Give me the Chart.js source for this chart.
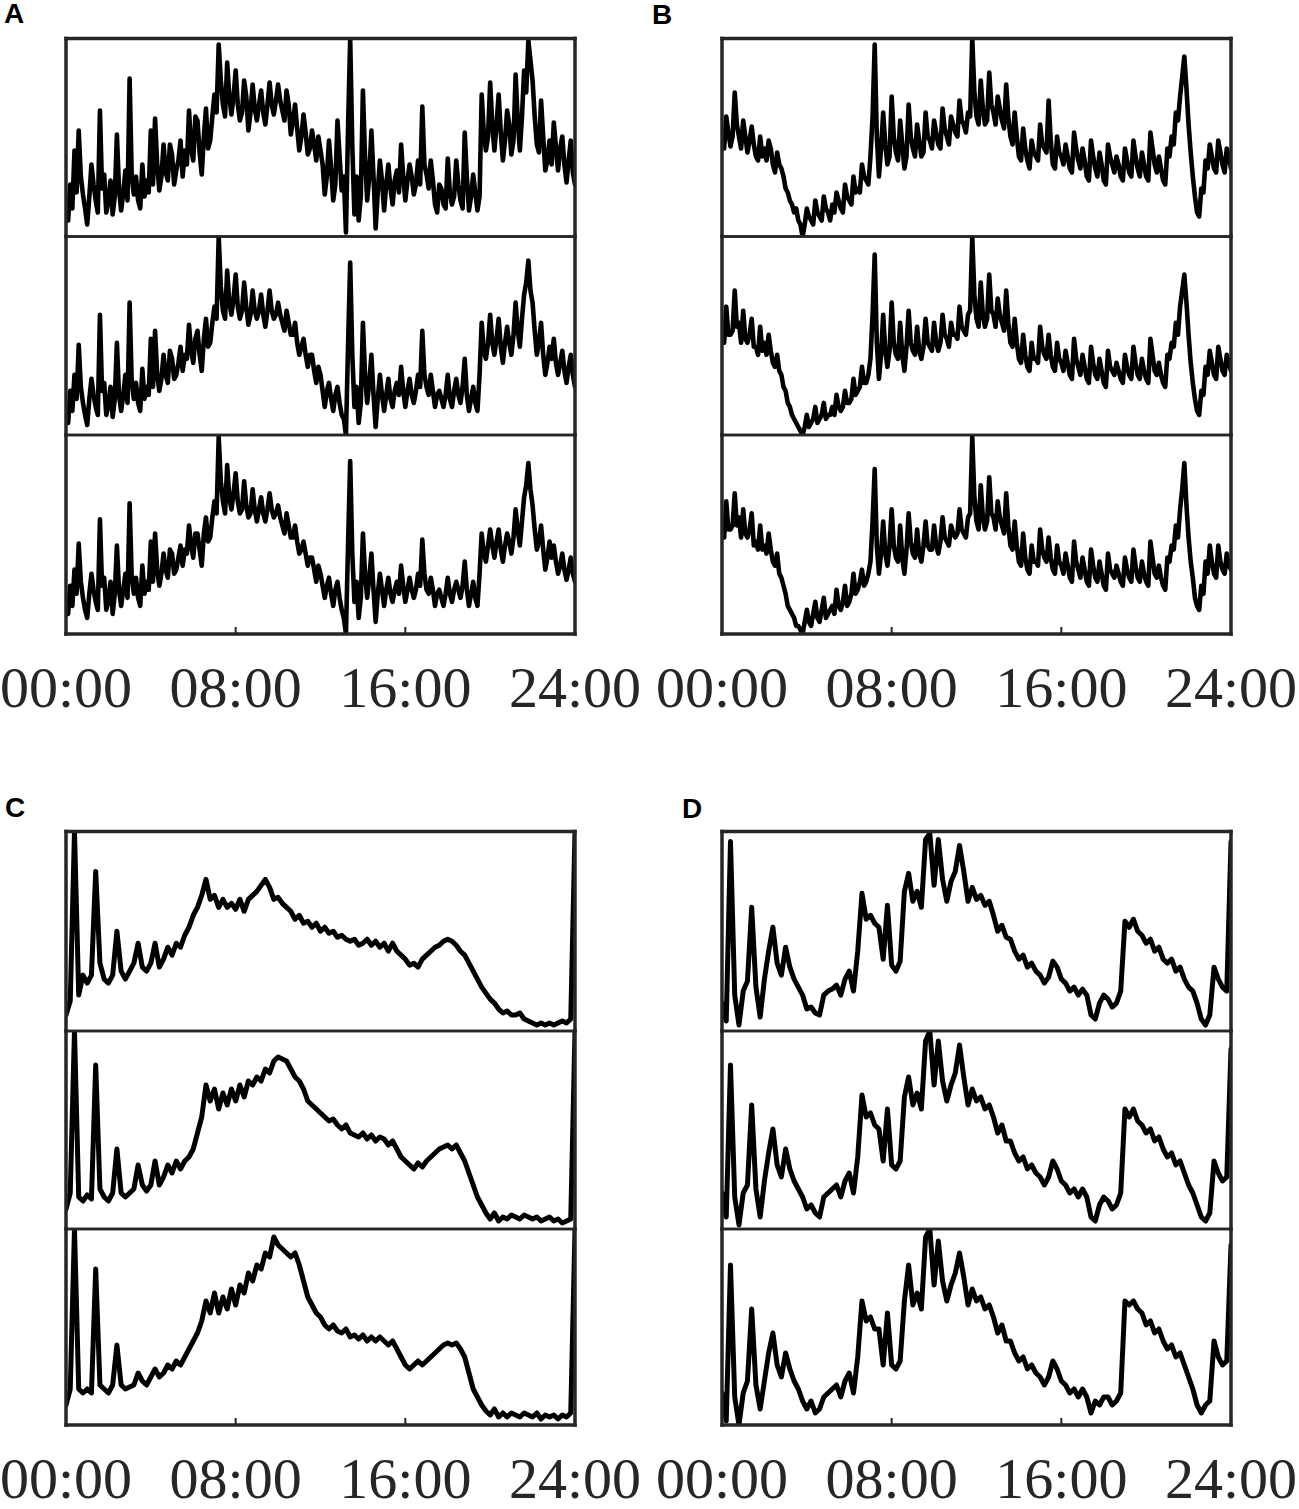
<!DOCTYPE html>
<html><head><meta charset="utf-8">
<script src="https://cdn.jsdelivr.net/npm/chart.js@4.4.1/dist/chart.umd.min.js"></script>
<style>
html,body{margin:0;padding:0;background:#fff;}
body{width:1299px;height:1509px;position:relative;overflow:hidden;}
canvas{position:absolute;}
.lbl{position:absolute;font:bold 28px "Liberation Sans",Arial,sans-serif;line-height:28px;color:#000;}
</style></head><body>
<div class="lbl" style="left:4px;top:0px">A</div>
<div class="lbl" style="left:652px;top:1px">B</div>
<div class="lbl" style="left:5px;top:794px">C</div>
<div class="lbl" style="left:682px;top:795px">D</div>
<script>
// ---- data (time in hours, values in arbitrary units per subplot) ----
const tickHours = [0, 8, 16, 24];
const tickLabels = ['00:00', '08:00', '16:00', '24:00'];
const timeFine = [];   // 0.1 h sampling (panels A, B)
for (let i = 0; i <= 240; i++) timeFine.push(+(i * 0.1).toFixed(1));
const timeCoarse = []; // 0.2 h sampling (panels C, D)
for (let i = 0; i <= 120; i++) timeCoarse.push(+(i * 0.2).toFixed(1));

const A1 = [16,8, 26,14, 43,22, 53,30, 21,14, 6,20, 36,26, 18,12, 63,24, 31,12,
 18,28, 11,20, 51,24, 13,22, 33,18, 79,30, 21,30, 18,14, 36,20, 28,22,
 53,26, 59,36, 23,30, 46,32, 28,46, 41,26, 33,38, 48,30, 43,36, 63,44,
 38,60, 58,42, 31,50, 64,44, 48,60, 71,62, 96,78, 66,60, 87,70, 61,70,
 83,66, 58,62, 78,70, 53,62, 76,64, 58,66, 73,62, 56,66, 77,66, 61,68,
 76,68, 63,58, 73,66, 51,58, 66,54, 43,50, 61,52, 41,44, 53,46, 38,50,
 43,36, 21,30, 48,34, 18,26, 58,40, 23,30, 2,55, 99,45, 11,30, 8,20,
 73,40, 18,30, 53,30, 4,22, 38,28, 13,26, 36,24, 16,28, 33,22, 46,30,
 18,28, 36,30, 21,26, 38,26, 65,36, 31,24, 38,28, 16,12, 26,24, 16,14,
 39,22, 16,20, 38,26, 18,14, 52,30, 13,20, 31,22, 13,20, 71,52, 43,50,
 77,56, 43,56, 71,52, 38,48, 63,56, 41,48, 81,58, 43,60, 83,72, 98,88,
 78,60, 46,42, 68,50, 33,38, 48,36, 57,45, 33,44, 50,36, 27,38, 48,32,
 26];
const A2 = [12,6, 22,12, 30,18, 45,24, 16,10, 5,18, 28,20, 14,10, 60,22, 26,10,
 15,24, 9,18, 46,20, 12,20, 30,16, 66,26, 18,26, 16,12, 33,18, 24,20,
 48,24, 52,30, 22,28, 40,30, 26,42, 38,28, 30,36, 44,32, 40,38, 55,42,
 36,48, 52,40, 32,48, 58,44, 46,56, 64,58, 99,74, 62,58, 82,66, 60,68,
 80,64, 58,62, 76,64, 55,60, 72,62, 58,62, 70,60, 54,62, 72,62, 58,60,
 66,60, 56,52, 62,56, 50,50, 56,46, 40,44, 48,40, 34,40, 40,32, 26,34,
 30,22, 14,22, 26,18, 12,20, 24,16, 10,8, 0,45, 86,40, 14,24, 6,16,
 56,30, 16,26, 40,20, 4,18, 30,20, 12,20, 28,18, 14,22, 26,20, 34,22,
 14,22, 28,20, 16,22, 30,24, 52,30, 24,20, 30,22, 14,20, 22,18, 14,20,
 30,18, 14,22, 28,20, 16,24, 38,20, 12,18, 24,16, 12,30, 56,42, 38,46,
 60,46, 40,48, 58,44, 36,46, 54,46, 40,50, 66,52, 44,58, 70,76, 87,72,
 66,52, 40,46, 56,40, 30,36, 44,38, 48,36, 30,36, 42,32, 26,34, 40,30,
 24];
const A3 = [18,10, 24,14, 32,20, 45,26, 18,12, 8,20, 30,22, 16,12, 57,24, 28,12,
 17,26, 10,20, 44,22, 14,22, 30,18, 65,28, 20,28, 18,14, 34,20, 26,22,
 46,26, 50,32, 24,30, 40,32, 28,42, 40,30, 32,38, 44,34, 42,40, 54,44,
 38,50, 50,42, 34,50, 58,46, 48,58, 66,60, 98,76, 66,60, 84,68, 62,70,
 80,66, 60,62, 76,64, 58,60, 72,62, 56,62, 68,60, 56,62, 70,62, 58,60,
 64,58, 54,50, 60,54, 48,48, 54,46, 40,42, 46,40, 34,38, 38,32, 26,34,
 30,24, 18,24, 28,20, 14,22, 26,18, 12,8, 0,45, 86,40, 16,26, 8,18,
 50,30, 18,28, 40,22, 6,20, 30,22, 14,22, 28,20, 16,22, 26,20, 34,24,
 16,22, 28,22, 18,22, 30,24, 47,30, 22,20, 28,22, 14,20, 22,18, 14,20,
 28,20, 16,22, 26,22, 18,24, 36,22, 14,20, 26,18, 14,30, 50,40, 36,44,
 52,44, 38,46, 52,42, 36,44, 50,46, 40,48, 62,52, 44,56, 68,74, 85,72,
 64,52, 42,46, 54,42, 32,38, 46,38, 44,36, 30,34, 40,32, 27,32, 38,30,
 26];

const B1 = [53,44, 60,52, 45,50, 72,56, 50,44, 58,50, 42,48, 55,46, 40,38, 50,40,
 44,38, 48,44, 36,32, 42,36, 34,30, 24,22, 18,16, 12,14, 8,6, 0,6,
 14,10, 8,6, 18,12, 10,8, 20,14, 12,8, 16,12, 22,18, 14,12, 26,20,
 18,16, 30,22, 24,22, 36,30, 28,26, 40,60, 96,50, 30,44, 62,46, 36,40,
 70,50, 42,38, 58,46, 34,40, 66,50, 44,40, 56,48, 40,42, 62,50, 48,44,
 58,52, 46,44, 64,54, 50,46, 60,56, 52,50, 68,58, 56,52, 62,60, 99,72,
 60,56, 78,64, 56,58, 82,66, 62,56, 70,64, 58,54, 76,60, 50,46, 62,50,
 40,38, 54,44, 38,34, 48,42, 40,38, 56,46, 44,42, 68,48, 36,34, 50,42,
 40,36, 46,40, 34,32, 52,44, 38,34, 44,38, 30,28, 48,40, 34,30, 42,36,
 28,26, 46,40, 36,32, 40,36, 30,28, 44,38, 32,30, 48,40, 34,30, 42,36,
 30,28, 52,44, 36,32, 40,34, 28,26, 44,40, 50,46, 62,58, 70,80, 90,74,
 56,42, 30,20, 12,10, 24,22, 38,34, 46,40, 34,32, 48,42, 36,32, 44,40,
 34];
const B2 = [55,46, 64,50, 50,52, 72,54, 56,46, 62,48, 46,50, 58,44, 44,40, 54,42,
 46,40, 50,42, 36,34, 40,32, 30,24, 22,16, 14,10, 8,6, 4,2, 0,4,
 10,4, 6,8, 14,6, 8,10, 16,8, 10,10, 14,10, 20,14, 12,14, 22,16,
 16,18, 28,20, 22,24, 34,26, 26,30, 38,60, 90,46, 28,40, 60,42, 34,42,
 66,46, 40,38, 56,40, 32,44, 62,46, 42,40, 54,42, 38,44, 58,46, 44,42,
 56,46, 42,46, 60,50, 48,44, 56,50, 50,48, 64,54, 52,50, 60,62, 99,70,
 58,54, 76,60, 54,58, 80,62, 60,54, 68,60, 56,52, 72,56, 46,44, 58,46,
 38,36, 50,40, 34,32, 46,38, 38,36, 54,44, 40,38, 50,40, 34,32, 46,38,
 36,32, 42,36, 30,28, 48,38, 34,30, 40,34, 28,26, 44,36, 30,28, 38,32,
 26,24, 42,34, 32,30, 36,32, 28,26, 40,34, 30,28, 44,36, 30,28, 38,32,
 28,26, 48,40, 32,30, 36,30, 26,24, 40,38, 46,44, 56,50, 64,72, 80,66,
 50,36, 26,18, 12,10, 22,20, 34,30, 42,36, 30,28, 44,38, 32,30, 40,36,
 32];
const B3 = [56,48, 66,52, 52,54, 70,54, 58,48, 62,50, 48,52, 60,44, 46,42, 54,42,
 44,40, 50,42, 36,34, 40,30, 28,24, 20,14, 12,10, 8,4, 4,2, 0,6,
 12,6, 4,10, 16,8, 6,12, 18,8, 10,12, 14,10, 22,14, 12,16, 24,14,
 16,20, 30,20, 22,26, 32,24, 26,30, 36,56, 82,44, 30,40, 56,40, 34,44,
 62,44, 38,36, 54,38, 30,42, 60,46, 40,38, 52,40, 36,44, 56,44, 42,42,
 54,44, 40,46, 58,48, 46,44, 54,50, 48,50, 62,52, 50,48, 58,60, 98,68,
 56,52, 74,58, 52,56, 78,60, 58,52, 66,58, 54,50, 70,54, 44,42, 56,44,
 36,34, 50,38, 32,30, 44,36, 36,34, 52,42, 38,36, 48,38, 32,30, 44,36,
 34,30, 40,34, 28,26, 46,36, 32,28, 38,32, 26,24, 42,34, 28,26, 36,30,
 24,22, 40,32, 30,28, 34,30, 26,24, 38,32, 28,26, 42,34, 28,26, 36,30,
 26,24, 46,38, 30,28, 34,28, 24,22, 38,36, 44,42, 54,48, 62,72, 85,64,
 48,36, 28,18, 14,12, 24,20, 36,30, 44,36, 30,28, 44,36, 32,30, 40,34,
 32];

const C1 = [8,15,100,18,28,24,28,80,34,26, 24,28,50,30,26,30,34,44,32,30,
 34,44,32,36,42,38,44,42,48,52, 58,62,68,76,66,68,62,66,62,64,
 61,66,60,66,68,70,73,76,72,66, 67,64,62,60,56,58,54,55,52,54,
 50,52,49,50,47,48,46,45,46,43, 44,46,43,45,42,44,40,44,40,38,
 36,33,34,32,36,38,40,42,43,45, 46,45,43,40,38,34,30,26,22,19,
 16,14,11,9,10,8,8,9,6,5, 4,3,4,3,4,3,4,5,4,6, 100];
const C2 = [10,18,99,16,14,17,15,82,20,16, 14,18,40,18,16,18,20,32,22,19,
 22,34,22,26,32,28,34,30,34,36, 40,48,56,72,64,70,60,68,62,70,
 64,72,66,74,72,76,74,80,78,84, 86,85,84,80,76,74,70,64,62,60,
 58,56,54,55,52,50,52,48,47,46, 48,45,47,44,46,45,42,44,40,36,
 34,32,30,33,31,34,36,38,40,41, 42,40,42,38,34,28,22,16,12,8,
 5,8,4,6,5,7,6,5,7,6, 5,6,4,5,6,4,5,3,4,5, 99];
const C3 = [10,18,98,18,16,18,16,78,20,18, 16,20,40,20,18,19,20,26,22,20,
 24,28,24,26,30,28,32,30,34,38, 42,46,52,62,56,66,56,64,58,68,
 60,70,66,76,72,80,78,86,84,94, 90,88,86,84,86,80,72,64,60,56,
 54,50,48,50,47,46,48,44,45,43, 45,42,44,42,44,42,40,42,38,34,
 30,28,30,32,30,32,34,36,38,40, 41,40,41,38,34,26,18,14,10,7,
 5,8,4,6,4,6,5,4,6,5, 4,6,3,5,4,5,3,5,4,6, 98];

const D1 = [14,5,95,18,3,20,25,62,22,7, 26,40,52,34,28,42,32,26,22,18,
 11,12,9,8,18,20,21,23,18,26, 30,20,40,69,56,58,54,52,36,63,
 33,30,35,70,79,65,70,62,96,99, 73,96,76,65,75,80,93,80,65,72,
 66,68,63,65,58,50,53,47,46,40, 36,38,32,34,30,28,24,27,35,32,
 26,24,20,22,18,21,18,8,6,14, 18,16,12,14,20,55,52,56,50,48,
 44,46,40,42,36,34,36,30,32,26, 22,20,14,6,3,8,32,26,22,20, 95];
const D2 = [18,6,82,16,2,18,22,62,20,6, 24,38,50,32,26,40,30,24,20,16,
 10,12,8,6,16,18,20,22,16,24, 28,18,36,67,56,58,52,50,34,60,
 32,30,34,66,76,62,68,60,94,99, 72,94,74,64,72,78,92,76,62,70,
 64,66,60,62,56,48,52,44,44,38, 34,36,30,32,28,26,22,26,34,30,
 24,22,18,20,16,20,16,6,4,12, 16,14,10,12,18,60,56,60,54,52,
 48,50,44,46,40,36,38,32,34,28, 22,18,12,6,4,8,34,28,24,26, 90];
const D3 = [16,2,80,14,0,16,22,58,20,8, 22,36,46,30,24,36,28,22,18,12,
 8,12,6,8,14,16,18,20,14,22, 26,16,34,62,52,54,48,48,30,56,
 30,28,32,62,80,60,66,58,94,98, 70,92,72,62,70,76,86,74,60,68,
 62,64,58,60,54,46,50,42,42,36, 32,34,28,30,26,24,20,24,32,28,
 22,20,16,18,14,18,14,6,12,10, 14,14,10,12,16,62,60,62,58,56,
 50,52,46,48,42,38,40,34,36,30, 24,18,10,6,10,12,42,34,30,32, 90];

// ---- layout (page pixels) ----
const panels = [
  { series: [A1, A2, A3], time: timeFine,   lw: 4.6, L: 66,  R: 575,  rows: [[38.5, 236.5], [236.5, 435], [435, 634]],  yMax: [99, 99, 99] },
  { series: [B1, B2, B3], time: timeFine,   lw: 4.6, L: 722, R: 1231, rows: [[38.5, 236.5], [236.5, 435], [435, 634]],  yMax: [99, 99, 99] },
  { series: [C1, C2, C3], time: timeCoarse, lw: 5,   L: 66,  R: 575,  rows: [[831.5, 1031], [1031, 1229], [1229, 1425]], yMax: [100, 99, 98] },
  { series: [D1, D2, D3], time: timeCoarse, lw: 5,   L: 722, R: 1231, rows: [[831.5, 1031], [1031, 1229], [1229, 1425]], yMax: [100, 99, 98] }
];
const PAD = 12, SIDE = 90, TICK_PAD = 23, FONT = 58;
const AXIS_H = FONT * 1.2 + 2 * TICK_PAD;
const FRAME = '#262626';

const framePlugin = {
  id: 'frame',
  afterDatasetsDraw(chart, args, opts) {
    const { ctx, chartArea: { left, right, top, bottom } } = chart;
    ctx.save();
    ctx.strokeStyle = FRAME;
    ctx.lineCap = 'square';
    ctx.lineWidth = 3.5;
    ctx.beginPath();
    ctx.moveTo(left, top); ctx.lineTo(left, bottom);
    ctx.moveTo(right, top); ctx.lineTo(right, bottom);
    ctx.stroke();
    ctx.lineWidth = opts.first ? 3.5 : 2.5;
    ctx.beginPath(); ctx.moveTo(left, top); ctx.lineTo(right, top); ctx.stroke();
    ctx.lineWidth = opts.last ? 3.5 : 2.5;
    ctx.beginPath(); ctx.moveTo(left, bottom); ctx.lineTo(right, bottom); ctx.stroke();
    if (opts.last) {
      ctx.lineWidth = 2;
      ctx.lineCap = 'butt';
      ctx.beginPath();
      [8, 16].forEach(h => {
        const x = chart.scales.x.getPixelForValue(h);
        ctx.moveTo(x, bottom); ctx.lineTo(x, bottom - 7);
      });
      ctx.stroke();
    }
    ctx.restore();
  }
};

function addChart(values, time, lw, L, R, T, B, ymax, first, last) {
  const c = document.createElement('canvas');
  const side = last ? SIDE : PAD;
  const top0 = Math.floor(T) - PAD;
  const padTop = T - top0;
  const w = (R - L) + 2 * side;
  const h = last ? Math.ceil(B - top0 + AXIS_H + PAD) : Math.ceil(B - top0 + PAD);
  const padBottom = last ? h - (B - top0) - AXIS_H : h - (B - top0);
  c.width = w; c.height = h;
  c.style.left = (L - side) + 'px'; c.style.top = top0 + 'px';
  c.style.width = w + 'px'; c.style.height = h + 'px';
  document.body.appendChild(c);
  new Chart(c, {
    type: 'line',
    data: {
      labels: time,
      datasets: [{
        data: values,
        borderColor: '#000',
        borderWidth: lw,
        pointRadius: 0,
        tension: 0,
        borderJoinStyle: 'round',
        borderCapStyle: 'round',
        fill: false
      }]
    },
    options: {
      responsive: false,
      animation: false,
      devicePixelRatio: 1,
      events: [],
      layout: { padding: { left: side, right: side, top: padTop, bottom: padBottom } },
      plugins: { legend: { display: false }, tooltip: { enabled: false }, frame: { first, last } },
      scales: {
        x: {
          type: 'linear', min: 0, max: 24, display: last,
          grid: { display: false, drawTicks: false },
          border: { display: false },
          ticks: {
            stepSize: 8, autoSkip: false, maxRotation: 0, padding: TICK_PAD,
            color: FRAME,
            font: { family: '"Liberation Serif", "Times New Roman", serif', size: FONT },
            callback: (v) => { const i = tickHours.indexOf(v); return i >= 0 ? tickLabels[i] : ''; }
          }
        },
        y: { display: false, min: 0, max: ymax }
      }
    },
    plugins: [framePlugin]
  });
}

panels.forEach(p => {
  p.series.forEach((s, i) => {
    addChart(s, p.time, p.lw, p.L, p.R, p.rows[i][0], p.rows[i][1], p.yMax[i], i === 0, i === 2);
  });
});
</script>
</body></html>
